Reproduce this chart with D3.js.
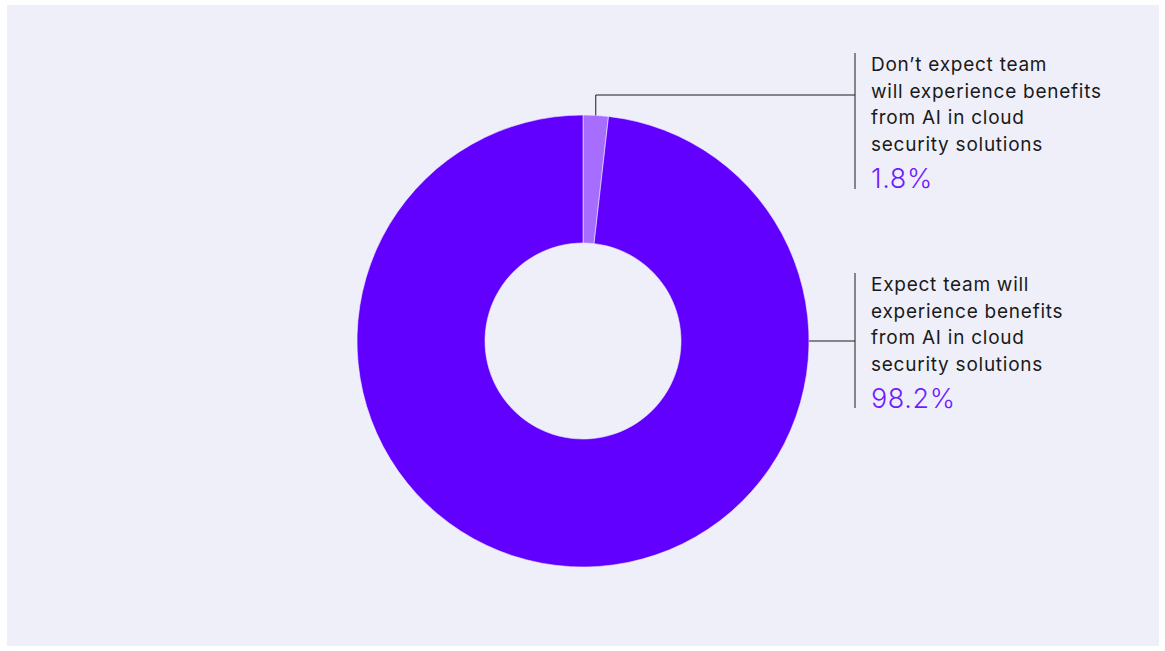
<!DOCTYPE html>
<html>
<head>
<meta charset="utf-8">
<script src="https://cdn.jsdelivr.net/npm/d3@7"></script>
<style>
  html, body { margin: 0; padding: 0; background: #ffffff; }
  svg { display: block; }
</style>
</head>
<body>
<svg id="chart" width="1165" height="651"></svg>
<script>
// Survey responses
const categories = [
  "Don\u2019t expect team will experience benefits from AI in cloud security solutions",
  "Expect team will experience benefits from AI in cloud security solutions"
];
const values = [1.8, 98.2];
const labelLines = [
  ["Don\u2019t expect team", "will experience benefits", "from AI in cloud", "security solutions"],
  ["Expect team will", "experience benefits", "from AI in cloud", "security solutions"]
];
const valueLabels = ["1.8%", "98.2%"];
const colors = ["#a66dff", "#6200ff"];

const svg = d3.select("#chart");

// panel background
svg.append("rect")
  .attr("x", 7).attr("y", 5)
  .attr("width", 1152).attr("height", 641)
  .attr("fill", "#efeff9");

const cx = 583, cy = 341, outerR = 226, innerR = 98;

const pie = d3.pie().sort(null).value(d => d);
const arcs = pie(values);
const arc = d3.arc().innerRadius(innerR).outerRadius(outerR);

const g = svg.append("g").attr("transform", `translate(${cx},${cy})`);
g.selectAll("path")
  .data(arcs)
  .join("path")
  .attr("d", arc)
  .attr("fill", (d, i) => colors[i])
  .attr("stroke", "#efeff9")
  .attr("stroke-width", 0.6);

const font = "Inter, 'Noto Sans', sans-serif";
const barX = 855, textX = 871;

// label block positions (extent of each vertical rule)
const blocks = [
  { top: 53, bottom: 189 },
  { top: 273, bottom: 408 }
];

// leader for the small slice: up from its outer mid-point, then across
const a0 = (arcs[0].startAngle + arcs[0].endAngle) / 2;
const p0 = [cx + outerR * Math.sin(a0), cy - outerR * Math.cos(a0)];
svg.append("path")
  .attr("d", d3.line()([[p0[0], p0[1]], [p0[0], 95], [barX, 95]]))
  .attr("fill", "none").attr("stroke", "#1a1a1a").attr("stroke-width", 1);

// leader for the large slice: from its right-hand edge across
const a1 = Math.PI / 2;
const p1 = [cx + outerR * Math.sin(a1), cy - outerR * Math.cos(a1)];
svg.append("line")
  .attr("x1", p1[0]).attr("y1", p1[1]).attr("x2", barX).attr("y2", p1[1])
  .attr("stroke", "#1a1a1a").attr("stroke-width", 1);

blocks.forEach((b, i) => {
  svg.append("line")
    .attr("x1", barX).attr("x2", barX)
    .attr("y1", b.top).attr("y2", b.bottom)
    .attr("stroke", "#1a1a1a").attr("stroke-width", 1);

  const t = svg.append("text")
    .attr("font-family", font)
    .attr("font-size", 19)
    .attr("letter-spacing", 0.75)
    .attr("fill", "#1a1a1a");
  labelLines[i].forEach((line, j) => {
    t.append("tspan")
      .attr("x", textX)
      .attr("y", b.top + 18 + j * 26.5)
      .text(line);
  });

  svg.append("text")
    .attr("x", textX)
    .attr("y", b.top + 135)
    .attr("font-family", font)
    .attr("font-size", 27)
    .attr("font-weight", 300)
    .attr("letter-spacing", 0.6)
    .attr("fill", "#6f1cff")
    .text(valueLabels[i]);
});
</script>
</body>
</html>
